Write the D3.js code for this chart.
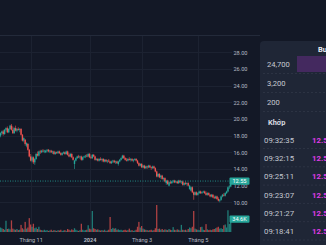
<!DOCTYPE html>
<html>
<head>
<meta charset="utf-8">
<script src="https://cdn.jsdelivr.net/npm/d3@7"></script>
<style>
  html, body { margin: 0; padding: 0; background: #131826; overflow: hidden; }
  svg { display: block; font-family: Roboto, "Noto Sans", sans-serif; }
</style>
</head>
<body>
<div id="chart"></div>
<script>
// daily candles [open, high, low, close], late Sep 2023 -> early Jun 2024
const candles = [
  [18.0,18.4,17.8,18.3],[18.3,18.6,18.1,18.5],[18.5,18.7,18.0,18.2],[18.2,18.8,18.1,18.7],
  [18.7,19.0,18.5,18.9],[18.9,19.1,18.3,18.4],[18.4,18.9,18.3,18.8],[18.8,19.3,18.7,19.2],
  [19.2,19.4,18.6,18.7],[18.7,19.1,18.2,18.3],[18.3,19.0,18.2,18.9],[18.9,19.2,18.5,18.6],
  [18.6,18.9,18.4,18.8],[18.8,19.0,18.6,18.7],[18.7,18.9,18.4,18.8],[18.8,18.9,18.0,18.1],
  [18.1,18.2,17.3,17.4],[17.4,17.8,17.2,17.7],[17.5,17.6,16.8,17.0],[16.8,17.2,16.6,17.1],
  [17.0,17.1,16.2,16.3],[16.3,16.4,15.4,15.5],[15.5,15.8,14.9,15.0],[15.0,15.6,14.8,15.4],
  [15.4,15.5,14.6,14.8],[14.8,15.3,14.5,15.2],[15.2,15.9,15.1,15.8],[15.8,16.1,15.5,15.6],
  [15.6,16.2,15.5,16.1],[16.1,16.3,15.8,16.0],[16.0,16.3,15.9,16.2],[16.2,16.4,16.0,16.1],
  [16.1,16.3,15.9,16.2],[16.0,16.3,15.9,16.2],[16.2,16.4,16.0,16.3],[16.3,16.4,16.0,16.1],
  [16.1,16.3,15.9,16.2],[16.2,16.3,15.9,16.0],[16.0,16.2,15.8,16.1],[16.1,16.2,15.7,15.8],
  [15.8,16.1,15.7,16.0],[16.0,16.1,15.8,15.9],[15.9,16.2,15.8,16.1],[16.1,16.2,15.8,15.9],
  [15.9,16.0,15.6,15.7],[15.7,16.0,15.6,15.9],[15.9,16.1,15.8,16.0],[16.0,16.1,15.7,15.8],
  [15.8,16.2,15.7,16.1],[16.1,16.2,15.6,15.7],[15.7,15.9,15.4,15.5],[15.5,15.9,15.4,15.8],
  [15.8,15.9,15.3,15.4],[15.4,15.5,15.0,15.1],[14.6,15.1,14.0,15.0],[15.0,15.4,14.9,15.3],
  [15.3,15.6,15.2,15.5],[15.5,15.7,15.3,15.4],[15.4,15.6,15.2,15.5],[15.5,15.6,15.0,15.1],
  [15.1,15.5,15.0,15.4],[15.4,15.6,15.3,15.5],[15.5,15.7,15.3,15.6],[15.6,15.8,15.4,15.5],
  [15.5,15.9,15.4,15.8],[15.8,15.9,15.3,15.4],[15.4,15.6,15.2,15.3],[15.3,15.8,15.2,15.7],
  [15.7,15.8,15.4,15.5],[15.5,15.6,15.0,15.1],[15.1,15.3,15.0,15.2],[15.2,15.3,14.9,15.0],
  [15.0,15.3,14.9,15.2],[15.2,15.4,15.0,15.1],[15.1,15.3,14.9,15.2],[15.2,15.3,14.8,14.9],
  [14.9,15.2,14.8,15.1],[15.1,15.2,14.8,14.9],[14.9,15.1,14.7,15.0],[15.0,15.2,14.8,14.9],
  [14.9,15.0,14.6,14.7],[14.7,15.0,14.6,14.9],[14.9,15.1,14.7,15.0],[15.0,15.1,14.7,14.8],
  [14.8,15.0,14.6,14.9],[14.9,15.0,14.6,14.7],[14.6,15.0,14.4,14.9],[14.9,15.2,14.8,15.1],
  [15.1,15.4,15.0,15.3],[15.3,15.7,15.2,15.6],[15.6,15.7,15.2,15.3],[15.3,15.4,15.0,15.1],
  [15.1,15.3,14.9,15.0],[15.0,15.3,14.9,15.2],[15.2,15.4,15.0,15.1],[15.1,15.3,14.9,15.2],
  [15.2,15.3,14.9,15.0],[15.0,15.2,14.8,15.1],[15.1,15.3,15.0,15.2],[15.2,15.3,14.9,15.0],
  [15.0,15.1,14.6,14.7],[14.7,14.8,14.3,14.4],[14.4,14.7,14.3,14.6],[14.6,14.7,14.1,14.2],
  [14.2,14.5,14.1,14.4],[14.4,14.5,14.0,14.1],[14.1,14.4,14.0,14.3],[14.3,14.4,14.0,14.2],
  [14.2,14.5,14.1,14.4],[14.4,14.5,14.1,14.2],[14.2,14.3,13.9,14.1],[14.1,14.4,14.0,14.3],
  [14.3,14.4,14.0,14.1],[14.1,14.2,13.6,13.7],[13.7,13.8,13.0,13.1],[13.1,13.5,13.0,13.4],
  [13.4,13.5,12.9,13.0],[13.0,13.3,12.8,13.2],[13.2,13.3,12.7,12.8],[12.8,13.0,12.6,12.9],
  [12.9,13.0,12.4,12.5],[12.3,12.7,12.1,12.6],[12.6,12.7,12.1,12.2],[12.0,12.5,11.9,12.4],
  [12.4,12.6,12.2,12.3],[12.3,12.6,12.2,12.5],[12.5,12.7,12.3,12.6],[12.6,12.7,12.3,12.4],
  [12.4,12.6,12.3,12.5],[12.5,12.6,12.2,12.3],[12.3,12.7,12.2,12.6],[12.6,12.7,12.3,12.4],
  [12.4,12.6,12.2,12.5],[12.5,12.6,12.0,12.1],[12.1,12.4,12.0,12.3],[12.3,12.5,12.1,12.2],
  [12.2,12.4,12.0,12.3],[12.3,12.4,11.9,12.0],[11.6,12.1,11.5,12.0],[11.4,11.9,11.3,11.8],
  [11.8,11.9,11.1,11.2],[11.2,11.3,10.3,10.9],[10.9,11.3,10.8,11.2],[11.2,11.3,10.8,10.9],
  [10.9,11.2,10.8,11.1],[11.1,11.4,11.0,11.3],[11.3,11.4,11.0,11.1],[11.1,11.3,11.0,11.2],
  [11.2,11.4,11.1,11.3],[11.3,11.4,11.0,11.1],[11.1,11.3,10.8,10.9],[10.9,11.2,10.8,11.1],
  [11.1,11.2,10.8,10.9],[10.9,11.0,10.6,10.7],[10.7,11.0,10.6,10.9],[10.9,11.0,10.5,10.6],
  [10.6,10.8,10.4,10.5],[10.5,10.8,10.4,10.7],[10.7,10.8,10.3,10.4],[10.4,10.6,10.1,10.2],
  [10.2,10.4,10.0,10.3],[10.3,10.8,10.2,10.7],[10.7,11.0,10.6,10.9],[10.9,11.1,10.7,10.8],
  [10.8,11.2,10.7,11.1],[11.1,11.4,11.0,11.3],[11.3,11.9,11.2,11.8],[11.8,12.1,11.6,11.9],
  [11.9,12.6,11.8,12.55]
];

// volume in thousands, one per candle
const volumes = [
  12,10,8,6,30,8,9,7,31,9,7,6,8,5,6,19,10,7,27,9,
  12,37,20,14,22,10,12,8,14,6,5,4,6,4,5,3,4,6,3,5,
  4,3,5,4,6,3,4,5,3,8,6,4,7,5,10,6,4,3,5,22,
  6,4,5,6,18,9,7,56,10,8,6,7,5,4,5,4,6,3,4,6,
  40,8,11,9,10,6,7,5,6,4,5,6,4,5,9,4,5,3,4,6,
  14,27,12,16,9,7,6,5,4,5,6,4,5,10,72,8,9,6,8,5,
  7,6,5,8,6,5,13,6,5,7,6,4,19,6,5,6,4,8,12,10,
  14,56,9,7,6,5,13,14,6,5,21,7,5,6,5,7,8,10,12,14,
  9,10,8,18,20,12,58,22,34.6
];

const priceTicks = [10, 12, 14, 16, 18, 20, 22, 24, 26, 28];
const monthTickIndex = [22, 65, 103, 144];
const monthTickLabels = ['Tháng 11', '2024', 'Tháng 3', 'Tháng 5'];
const lastPrice = 12.55;
const lastVolume = 34.6;

// order book / matched trades panel
const bookVolumes = ['24,700', '3,200', '200'];
const bookValues = [24700, 3200, 200];
const tradeTimes = ['09:32:35', '09:32:15', '09:25:11', '09:23:07', '09:21:27', '09:18:41'];
const tradePrices = ['12.55', '12.55', '12.55', '12.55', '12.55', '12.55'];

const width = 326, height = 245;
const up = '#26a69a', down = '#ef5350';
const plotRight = 232, volBase = 232, headerY = 35;

const svg = d3.select('#chart').append('svg')
  .attr('width', width).attr('height', height);

svg.append('rect').attr('width', width).attr('height', height).attr('fill', '#131826');

const x = d3.scaleLinear().domain([0, candles.length - 1]).range([0.5, 230.7]);
const y = d3.scaleLinear().domain([10, 28]).range([202.3, 52.3]);
const vy = d3.scaleLinear().domain([0, 80]).range([volBase, volBase - 30]);

// header separator
svg.append('line')
  .attr('x1', 0).attr('x2', 260).attr('y1', headerY + 0.5).attr('y2', headerY + 0.5)
  .attr('stroke', '#232a3a').attr('stroke-width', 1);

// grid
const grid = svg.append('g').attr('class', 'grid');
grid.selectAll('.hgrid').data(priceTicks).enter().append('line')
  .attr('x1', 0).attr('x2', plotRight)
  .attr('y1', d => Math.round(y(d)) + 0.5).attr('y2', d => Math.round(y(d)) + 0.5)
  .attr('stroke', '#1c2231');
grid.selectAll('.vgrid').data(monthTickIndex).enter().append('line')
  .attr('x1', d => Math.round(x(d)) + 0.5).attr('x2', d => Math.round(x(d)) + 0.5)
  .attr('y1', headerY + 1).attr('y2', volBase)
  .attr('stroke', '#1c2231');

// volume bars
svg.append('g').selectAll('rect').data(volumes).enter().append('rect')
  .attr('x', (d, i) => x(i) - 0.65)
  .attr('width', 1.3)
  .attr('y', d => vy(d))
  .attr('height', d => volBase - vy(d))
  .attr('fill', (d, i) => candles[i][3] >= candles[i][0] ? up : down)
  .attr('opacity', 0.7);

// candles
const cg = svg.append('g');
cg.selectAll('line').data(candles).enter().append('line')
  .attr('x1', (d, i) => x(i)).attr('x2', (d, i) => x(i))
  .attr('y1', d => y(d[1])).attr('y2', d => y(d[2]))
  .attr('stroke', d => d[3] >= d[0] ? up : down)
  .attr('stroke-width', 0.6);
cg.selectAll('rect').data(candles).enter().append('rect')
  .attr('x', (d, i) => x(i) - 0.7)
  .attr('width', 1.4)
  .attr('y', d => y(Math.max(d[0], d[3])))
  .attr('height', d => Math.max(0.7, Math.abs(y(d[0]) - y(d[3]))))
  .attr('fill', d => d[3] >= d[0] ? up : down);

// last price line
svg.append('line')
  .attr('x1', 0).attr('x2', 230)
  .attr('y1', y(lastPrice)).attr('y2', y(lastPrice))
  .attr('stroke', up).attr('stroke-width', 0.8)
  .attr('stroke-dasharray', '1,1.5');

// price axis
const yAxis = svg.append('g')
  .attr('transform', `translate(${plotRight},0)`)
  .call(d3.axisRight(y).tickValues(priceTicks).tickSize(0).tickFormat(d3.format('.2f')));
yAxis.select('.domain').remove();
yAxis.selectAll('text')
  .attr('x', 15.5).attr('text-anchor', 'end')
  .attr('fill', '#b4b8c2').attr('font-size', '5.6px')
  .attr('font-family', 'Roboto, sans-serif');

// time axis
const xAxis = svg.append('g')
  .attr('transform', `translate(0,${volBase})`)
  .call(d3.axisBottom(x).tickValues(monthTickIndex).tickSize(0)
    .tickFormat((d, i) => monthTickLabels[i]));
xAxis.select('.domain').remove();
xAxis.selectAll('text')
  .attr('y', 6).attr('dy', '0.71em')
  .attr('fill', '#b4b8c2').attr('font-size', '5.6px')
  .attr('font-weight', (d, i) => monthTickLabels[i] === '2024' ? 700 : 400)
  .attr('font-family', 'Roboto, sans-serif');

// value tags on the price scale
function tag(yPos, label) {
  const g = svg.append('g').attr('transform', `translate(229.5,${yPos})`);
  g.append('rect').attr('x', 0).attr('y', -3.6).attr('width', 20).attr('height', 7.2)
    .attr('rx', 1).attr('fill', up);
  g.append('text').attr('x', 10).attr('y', 0).attr('dy', '0.35em')
    .attr('text-anchor', 'middle').attr('fill', '#ffffff').attr('font-size', '5.6px')
    .text(label);
}
tag(y(lastPrice), d3.format('.2f')(lastPrice));
tag(vy(lastVolume), lastVolume + 'K');

// right side panel
const panel = svg.append('g');
panel.append('rect')
  .attr('x', 260).attr('y', 41).attr('width', 90).attr('height', 230)
  .attr('rx', 4).attr('fill', '#1f2636');
panel.append('text')
  .attr('x', 318).attr('y', 49.5).attr('dy', '0.35em')
  .attr('fill', '#e8eaef').attr('font-size', '7.5px').attr('font-weight', 700)
  .text('Bước giá');

const bookW = d3.scaleLinear().domain([0, d3.max(bookValues)]).range([0, 72]);
const rowY = d3.scaleLinear().domain([0, 1]).range([64, 83]);
panel.selectAll('.book-bar').data(bookValues).enter().append('rect')
  .attr('x', d => 369 - bookW(d)).attr('width', d => bookW(d))
  .attr('y', (d, i) => rowY(i) - 8).attr('height', 16)
  .attr('fill', '#44295f');
panel.selectAll('.book-text').data(bookVolumes).enter().append('text')
  .attr('x', 267).attr('y', (d, i) => rowY(i)).attr('dy', '0.35em')
  .attr('fill', '#c6c9d1').attr('font-size', '7.6px')
  .text(d => d);
panel.selectAll('.book-sep').data(bookVolumes).enter().append('line')
  .attr('x1', 263).attr('x2', 326)
  .attr('y1', (d, i) => rowY(i) + 9.5).attr('y2', (d, i) => rowY(i) + 9.5)
  .attr('stroke', '#363d4e').attr('stroke-width', 0.6).attr('stroke-dasharray', '2,2');

panel.append('text')
  .attr('x', 268).attr('y', 122).attr('dy', '0.35em')
  .attr('fill', '#d8dbe2').attr('font-size', '7.4px').attr('font-weight', 700)
  .text('Khớp');

const tradeY = d3.scaleLinear().domain([0, 1]).range([140, 158.3]);
panel.selectAll('.trade-time').data(tradeTimes).enter().append('text')
  .attr('x', 264).attr('y', (d, i) => tradeY(i)).attr('dy', '0.35em')
  .attr('fill', '#c3c7d0').attr('font-size', '7.8px')
  .text(d => d);
panel.selectAll('.trade-price').data(tradePrices).enter().append('text')
  .attr('x', 312).attr('y', (d, i) => tradeY(i)).attr('dy', '0.35em')
  .attr('fill', '#e03ce6').attr('font-size', '7.8px').attr('font-weight', 700)
  .text(d => d);
panel.selectAll('.trade-sep').data(tradeTimes).enter().append('line')
  .attr('x1', 263).attr('x2', 326)
  .attr('y1', (d, i) => tradeY(i) + 8.5).attr('y2', (d, i) => tradeY(i) + 8.5)
  .attr('stroke', '#363d4e').attr('stroke-width', 0.6).attr('stroke-dasharray', '2,2');
</script>
</body>
</html>
